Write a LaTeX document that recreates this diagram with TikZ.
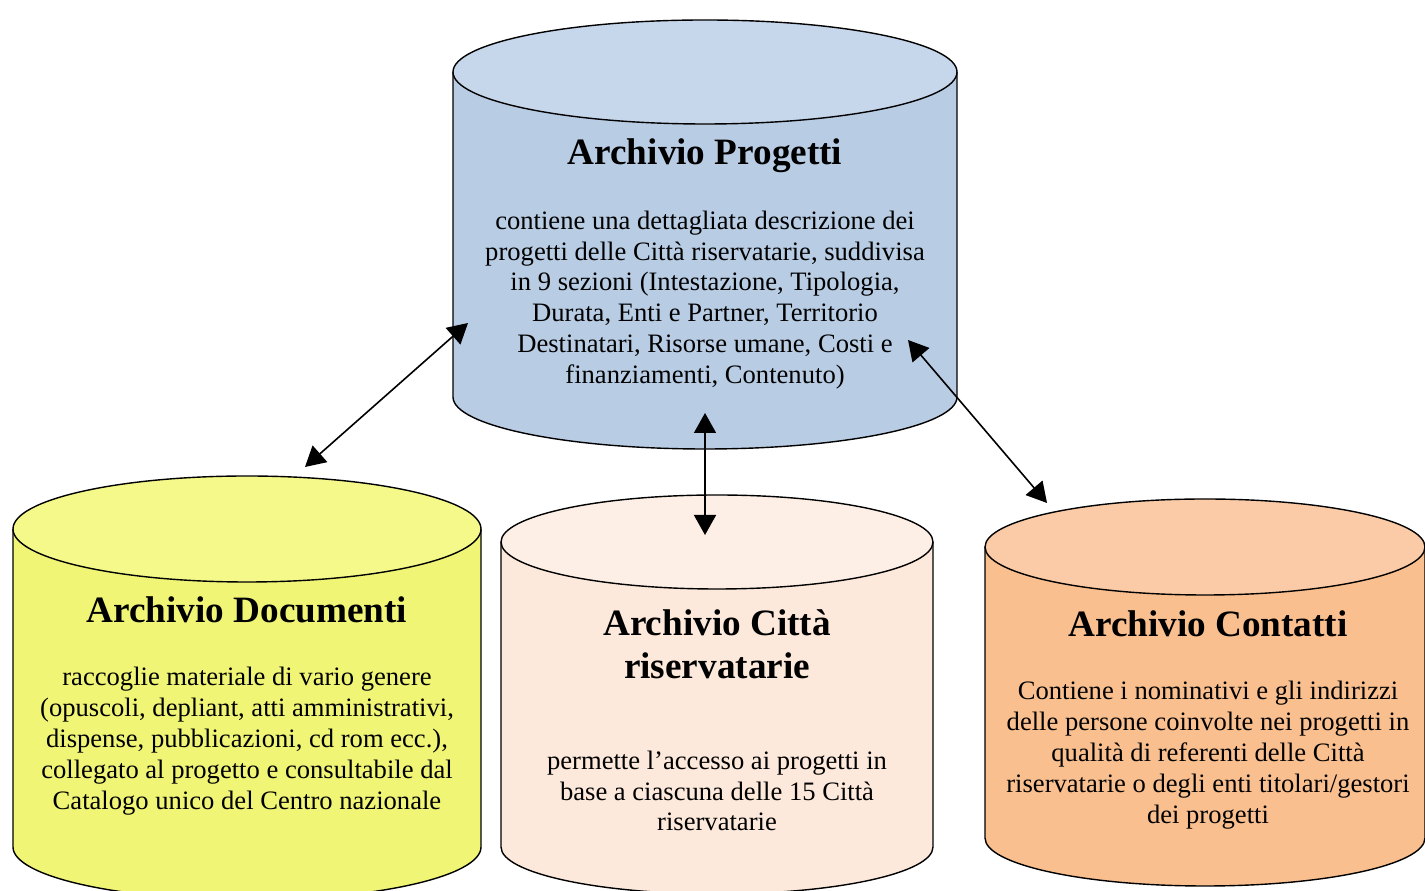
\documentclass[tikz,border=0pt]{standalone}
\usepackage{fontspec}
\setmainfont{Liberation Serif}
\usetikzlibrary{arrows.meta}
\definecolor{progSide}{HTML}{B8CCE4}
\definecolor{progTop}{HTML}{C6D6EB}
\definecolor{docSide}{HTML}{F0F576}
\definecolor{docTop}{HTML}{F4F98A}
\definecolor{cittaSide}{HTML}{FCE9DB}
\definecolor{cittaTop}{HTML}{FDEFE5}
\definecolor{contSide}{HTML}{F9BF8F}
\definecolor{contTop}{HTML}{FACBA6}
\tikzstyle{title} = [
	font=\bfseries\fontsize{37.2}{42.8}\selectfont,
	align=center,
	inner sep=0pt
]
\tikzstyle{body} = [
	font=\fontsize{26.6}{30.9}\selectfont,
	align=center,
	inner sep=0pt
]
\tikzstyle{arrow} = [line width=1.6pt, {Triangle[length=20pt,width=22pt]}-{Triangle[length=20pt,width=22pt]}]
% #1 centre x, #2 top y, #3 bottom y, #4 x radius, #5 y radius, #6 side, #7 top
\newcommand{\archivio}[7]{
	\fill[#6] (#1-#4,#2) rectangle (#1+#4,#3);
	\fill[#6] (#1,#3) ellipse [x radius=#4, y radius=#5];
	\draw[line width=1.4pt] (#1-#4,#2) -- (#1-#4,#3)
		arc[start angle=180, end angle=360, x radius=#4, y radius=#5] -- (#1+#4,#2);
	\filldraw[fill=#7, line width=1.4pt] (#1,#2) ellipse [x radius=#4, y radius=#5];
}

\begin{document}
\begin{tikzpicture}[x=1pt, y=1pt]
	\useasboundingbox (0,0) rectangle (1425,891);
	\clip (0,0) rectangle (1425,891);
	\archivio{705}{819}{494}{252}{52}{progSide}{progTop}
	\archivio{247}{362}{44}{234}{53}{docSide}{docTop}
	\archivio{717}{349}{44}{216}{47}{cittaSide}{cittaTop}
	\archivio{1205}{344}{53}{220}{48}{contSide}{contTop}

	\node (progTitle) [title] at (705,735) {Archivio Progetti};
	\node (progText) [body] at (705,591)
		{contiene una dettagliata descrizione dei\\
		progetti delle Città riservatarie, suddivisa\\
		in 9 sezioni (Intestazione, Tipologia,\\
		Durata, Enti e Partner, Territorio\\
		Destinatari, Risorse umane, Costi e\\
		finanziamenti, Contenuto)};

	\node (docTitle) [title] at (247,281) {Archivio Documenti};
	\node (docText) [body] at (247,150)
		{raccoglie materiale di vario genere\\
		(opuscoli, depliant, atti amministrativi,\\
		dispense, pubblicazioni, cd rom ecc.),\\
		collegato al progetto e consultabile dal\\
		Catalogo unico del Centro nazionale};

	\node (cittaTitle) [title] at (717,247) {Archivio Città\\riservatarie};
	\node (cittaText) [body] at (717,100)
		{permette l’accesso ai progetti in\\
		base a ciascuna delle 15 Città\\
		riservatarie};

	\node (contTitle) [title] at (1208,267) {Archivio Contatti};
	\node (contText) [body] at (1208,136)
		{Contiene i nominativi e gli indirizzi\\
		delle persone coinvolte nei progetti in\\
		qualità di referenti delle Città\\
		riservatarie o degli enti titolari/gestori\\
		dei progetti};

	\coordinate (progL) at (468,568);
	\coordinate (progB) at (705,478);
	\coordinate (progR) at (908,551);
	\coordinate (docT) at (305,424);
	\coordinate (cittaT) at (705,356);
	\coordinate (contT) at (1047,388);
	\draw [arrow] (docT) -- (progL);
	\draw [arrow] (cittaT) -- (progB);
	\draw [arrow] (contT) -- (progR);
\end{tikzpicture}
\end{document}
